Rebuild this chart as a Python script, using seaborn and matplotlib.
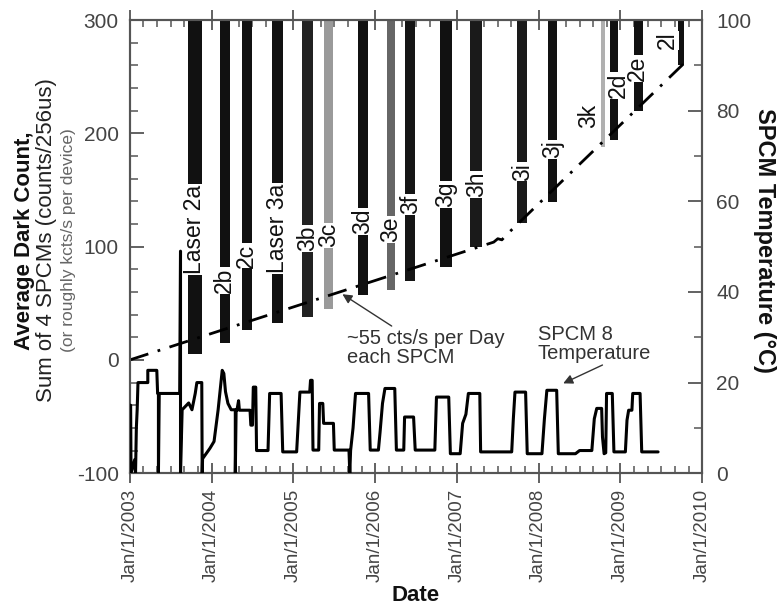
import matplotlib
matplotlib.use("Agg")
import matplotlib.pyplot as plt
from matplotlib.ticker import MultipleLocator
import seaborn as sns
import pandas as pd

sns.set_theme(style="ticks")
plt.rcParams['font.family'] = ['Liberation Sans', 'DejaVu Sans']

# ---------------- data ----------------
bar_labels = ["Laser 2a", "2b", "2c", "Laser 3a", "3b", "3c", "3d", "3e", "3f",
              "3g", "3h", "3i", "3j", "3k", "2d", "2e", "2l"]
bar_start = [2003.71, 2004.10, 2004.37, 2004.74, 2005.10, 2005.38, 2005.79, 2006.14,
             2006.37, 2006.79, 2007.16, 2007.74, 2008.12, 2008.76, 2008.87, 2009.16, 2009.70]
bar_end = [2003.88, 2004.22, 2004.49, 2004.87, 2005.24, 2005.48, 2005.91, 2006.24,
           2006.49, 2006.94, 2007.31, 2007.86, 2008.23, 2008.81, 2008.97, 2009.27, 2009.78]
bar_bottom = [5, 15, 26, 33, 38, 45, 57, 62, 70, 82, 100, 121, 139, 188, 194, 220, 260]
bar_shade = ["#111111", "#111111", "#111111", "#111111", "#222222", "#9a9a9a", "#111111",
             "#666666", "#151515", "#111111", "#1a1a1a", "#1a1a1a", "#111111", "#b0b0b0",
             "#111111", "#111111", "#111111"]
label_year = [2003.795, 2004.16, 2004.43, 2004.805, 2005.17, 2005.43, 2005.85, 2006.19,
              2006.43, 2006.865, 2007.235, 2007.80, 2008.175, 2008.61, 2008.97, 2009.21, 2009.57]
label_count = [115, 70, 92, 116, 107, 110, 122, 115, 137, 146, 155, 166, 186, 215, 242, 257, 282]

trend_year = [2003.0, 2007.45, 2007.50, 2007.55, 2007.60, 2009.78]
trend_count = [0, 104, 107, 106, 110, 262]

temp_year = [2003.00, 2003.01, 2003.015, 2003.06, 2003.07, 2003.08, 2003.09, 2003.10, 2003.22,
             2003.22, 2003.33, 2003.34, 2003.35, 2003.35, 2003.36, 2003.61, 2003.62, 2003.62,
             2003.64, 2003.72, 2003.76, 2003.80, 2003.82, 2003.88, 2003.885, 2003.89, 2003.98,
             2004.03, 2004.08, 2004.13, 2004.15, 2004.17, 2004.20, 2004.24, 2004.29, 2004.29,
             2004.30, 2004.31, 2004.33, 2004.34, 2004.47, 2004.48, 2004.50, 2004.51, 2004.54,
             2004.55, 2004.69, 2004.71, 2004.85, 2004.87, 2005.04, 2005.08, 2005.20, 2005.21,
             2005.23, 2005.24, 2005.31, 2005.32, 2005.36, 2005.37, 2005.49, 2005.50, 2005.68,
             2005.69, 2005.70, 2005.73, 2005.76, 2005.92, 2005.94, 2006.04, 2006.06, 2006.09,
             2006.12, 2006.24, 2006.26, 2006.35, 2006.36, 2006.47, 2006.49, 2006.73, 2006.75,
             2006.90, 2006.92, 2007.04, 2007.07, 2007.11, 2007.14, 2007.28, 2007.29, 2007.67,
             2007.69, 2007.71, 2007.84, 2007.86, 2008.04, 2008.07, 2008.10, 2008.22, 2008.24,
             2008.45, 2008.50, 2008.65, 2008.68, 2008.71, 2008.77, 2008.78, 2008.80, 2008.82,
             2008.83, 2008.90, 2008.92, 2009.06, 2009.08, 2009.10, 2009.14, 2009.15, 2009.24,
             2009.26, 2009.46]
temp_val = [15, 15, 0, 3, 0, 10, 14, 20, 20,
            22.7, 22.7, 17.6, 17.6, 0, 17.6, 17.6, 49, 0,
            14, 15.5, 14, 17.6, 20, 20, 0, 3.2, 5.5,
            7, 14, 22.7, 22, 18, 15.4, 14, 14, 0,
            14, 13.9, 16, 13.9, 13.9, 10.6, 10.6, 19, 19,
            5, 5, 17.6, 17.6, 4.7, 4.7, 17.9, 17.9, 20.5,
            20.5, 5.1, 5.1, 15.4, 15.4, 11, 11, 5.1, 5.1,
            0, 5, 10, 17.6, 17.6, 5.1, 5.1, 9, 15.4,
            18.7, 18.7, 5.1, 5.1, 12.4, 12.4, 5.1, 5.1, 16.8,
            16.8, 4.3, 4.3, 11, 13, 17.6, 17.6, 4.7, 4.7,
            12, 17.9, 17.9, 4.3, 4.3, 12, 18.3, 18.3, 4.3,
            4.3, 5, 5, 12, 14.3, 14.3, 8, 4.3, 4.5,
            17.6, 17.6, 4.7, 4.7, 11.7, 13.9, 13.9, 17.6, 17.6,
            4.7, 4.7]

year_ticks = [2003, 2004, 2005, 2006, 2007, 2008, 2009, 2010]
year_labels = ["Jan/1/2003", "Jan/1/2004", "Jan/1/2005", "Jan/1/2006",
               "Jan/1/2007", "Jan/1/2008", "Jan/1/2009", "Jan/1/2010"]
count_ticks = [-100, 0, 100, 200, 300]
temp_ticks = [0, 20, 40, 60, 80, 100]

# ---------------- figure ----------------
fig = plt.figure(figsize=(7.82, 6.09), dpi=100)
ax = fig.add_axes([0.166, 0.223, 0.732, 0.744])
ax2 = ax.twinx()
ax2.patch.set_visible(False)

spine_c = "#555555"
tick_c = "#444444"

# vertical data bands
bars = pd.DataFrame({"label": bar_labels, "start": bar_start, "end": bar_end,
                     "bottom": bar_bottom, "shade": bar_shade,
                     "ly": label_year, "lc": label_count})
for _, r in bars.iterrows():
    ax.bar((r.start + r.end) / 2, 330 - r.bottom, bottom=r.bottom,
           width=r.end - r.start, color=r.shade, linewidth=0, zorder=2)
    ax.text(r.ly, r.lc, r.label, rotation=90, ha="center", va="center",
            fontsize=16.5, color="#111111", zorder=4,
            bbox=dict(facecolor="white", edgecolor="none", pad=0.5))

# trend line
trend = pd.DataFrame({"year": trend_year, "count": trend_count})
sns.lineplot(data=trend, x="year", y="count", ax=ax, color="black", lw=2,
             linestyle=(0, (7, 3.5, 1, 3.5)), estimator=None, sort=False, zorder=3)

# temperature line
temp = pd.DataFrame({"year": temp_year, "temp": temp_val})
sns.lineplot(data=temp, x="year", y="temp", ax=ax2, color="black", lw=2.2,
             estimator=None, sort=False, zorder=3)

# axes limits / ticks
ax.set_xlim(2003, 2010)
ax.set_ylim(-100, 300)
ax2.set_ylim(0, 100)
ax.set_xticks(year_ticks)
ax.set_xticklabels(year_labels, rotation=90, fontsize=13.5, color=tick_c)
ax.xaxis.set_minor_locator(MultipleLocator(1 / 6))
ax.set_yticks(count_ticks)
ax.set_yticklabels([str(v) for v in count_ticks], fontsize=15, color=tick_c)
ax.yaxis.set_minor_locator(MultipleLocator(20))
ax2.set_yticks(temp_ticks)
ax2.set_yticklabels([str(v) for v in temp_ticks], fontsize=15, color=tick_c)
ax2.yaxis.set_minor_locator(MultipleLocator(10))

ax.tick_params(axis="x", which="major", direction="inout", length=14, width=1.3,
               color=spine_c, top=True, pad=4)
ax.tick_params(axis="x", which="minor", direction="in", length=5, width=1.1,
               color=spine_c, top=True)
ax.tick_params(axis="y", which="major", direction="in", length=10, width=1.3,
               color=spine_c, pad=8)
ax.tick_params(axis="y", which="minor", direction="in", length=6, width=1.1, color=spine_c)
ax2.tick_params(axis="y", which="major", direction="in", length=10, width=1.3,
                color=spine_c, pad=10)
ax2.tick_params(axis="y", which="minor", direction="in", length=6, width=1.1, color=spine_c)

for a in (ax, ax2):
    for s in a.spines.values():
        s.set_color(spine_c)
        s.set_linewidth(1.5)
        s.set_visible(True)

ax.set_xlabel("")
ax.set_ylabel("")
ax2.set_ylabel("")

# annotations
ax.annotate("~55 cts/s per Day\neach SPCM", xy=(2005.6, 58), xytext=(2005.66, 27),
            fontsize=14.5, color="#333333", ha="left", va="top", linespacing=1.0,
            arrowprops=dict(arrowstyle="-|>", color="#333333", lw=1,
                            shrinkA=0, shrinkB=0, mutation_scale=14),
            zorder=5)
ax.annotate("SPCM 8\nTemperature", xy=(2008.3, -20.7), xytext=(2007.99, 31),
            fontsize=14.5, color="#333333", ha="left", va="top", linespacing=1.0,
            zorder=5)
ax.annotate("", xy=(2008.3, -20.7), xytext=(2008.78, -4.5),
            arrowprops=dict(arrowstyle="-|>", color="#333333", lw=1,
                            shrinkA=0, shrinkB=0, mutation_scale=14), zorder=5)

# axis titles
fig.text(0.031, 0.605, "Average Dark Count,", rotation=90, ha="center", va="center",
         fontsize=16, fontweight="bold", color="#111111")
fig.text(0.060, 0.605, "Sum of 4 SPCMs (counts/256us)", rotation=90, ha="center",
         va="center", fontsize=16, color="#222222")
fig.text(0.087, 0.605, "(or roughly kcts/s per device)", rotation=90, ha="center",
         va="center", fontsize=12.5, color="#666666")
fig.text(0.978, 0.605, "SPCM Temperature (°C)", rotation=270, ha="center",
         va="center", fontsize=17, fontweight="bold", color="#111111")
fig.text(0.531, 0.022, "Date", ha="center", va="center", fontsize=16,
         fontweight="bold", color="#111111")

fig.savefig("out.png", dpi=100)
